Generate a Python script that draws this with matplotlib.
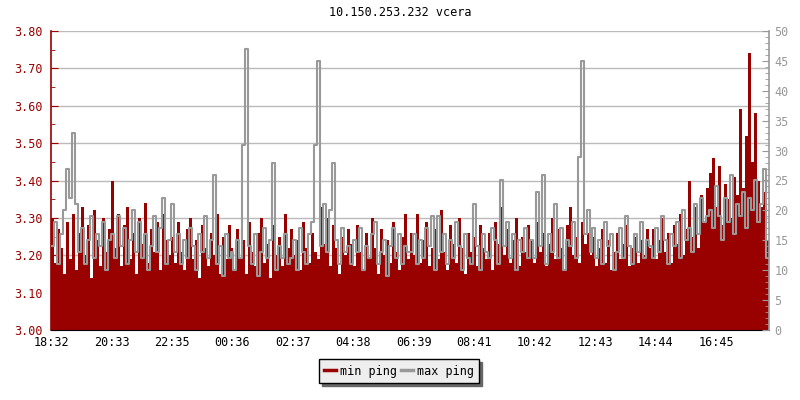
import matplotlib
matplotlib.use('Agg')
import matplotlib.pyplot as plt
import numpy as np
from matplotlib.ticker import MultipleLocator
from matplotlib.lines import Line2D

title = '10.150.253.232 vcera'
tick_labels = ['18:32', '20:33', '22:35', '00:36', '02:37', '04:38',
               '06:39', '08:41', '10:42', '12:43', '14:44', '16:45']

# min ping (left axis), one value per 6 minutes, 2 hour blocks per row
min_ping = [
    3.30, 3.18, 3.27, 3.22, 3.15, 3.29, 3.19, 3.31, 3.16, 3.26, 3.33, 3.20, 3.28, 3.14, 3.32, 3.24, 3.17, 3.30, 3.21, 3.27,
    3.40, 3.22, 3.31, 3.17, 3.28, 3.33, 3.19, 3.26, 3.15, 3.30, 3.23, 3.34, 3.18, 3.27, 3.21, 3.29, 3.16, 3.31, 3.24, 3.20,
    3.25, 3.18, 3.29, 3.21, 3.16, 3.27, 3.30, 3.19, 3.24, 3.14, 3.28, 3.22, 3.17, 3.26, 3.20, 3.31, 3.15, 3.25, 3.19, 3.28,
    3.22, 3.16, 3.27, 3.19, 3.24, 3.15, 3.29, 3.21, 3.17, 3.26, 3.30, 3.18, 3.23, 3.14, 3.28, 3.20, 3.25, 3.17, 3.31, 3.22,
    3.27, 3.20, 3.24, 3.16, 3.29, 3.22, 3.18, 3.26, 3.21, 3.19, 3.33, 3.23, 3.30, 3.17, 3.28, 3.22, 3.15, 3.25, 3.20, 3.27,
    3.23, 3.17, 3.28, 3.21, 3.16, 3.26, 3.19, 3.30, 3.22, 3.15, 3.27, 3.20, 3.24, 3.18, 3.29, 3.21, 3.16, 3.25, 3.31, 3.19,
    3.26, 3.20, 3.31, 3.18, 3.24, 3.29, 3.17, 3.22, 3.27, 3.19, 3.32, 3.21, 3.16, 3.28, 3.23, 3.18, 3.30, 3.22, 3.15, 3.26,
    3.21, 3.25, 3.17, 3.28, 3.22, 3.19, 3.26, 3.16, 3.29, 3.23, 3.33, 3.20, 3.27, 3.18, 3.24, 3.30, 3.17, 3.25, 3.21, 3.28,
    3.24, 3.18, 3.29, 3.21, 3.26, 3.17, 3.23, 3.30, 3.19, 3.27, 3.22, 3.16, 3.28, 3.33, 3.20, 3.25, 3.18, 3.29, 3.23, 3.26,
    3.20, 3.25, 3.17, 3.22, 3.27, 3.18, 3.24, 3.16, 3.21, 3.26, 3.19, 3.23, 3.28, 3.17, 3.22, 3.25, 3.18, 3.24, 3.20, 3.27,
    3.22, 3.27, 3.19, 3.24, 3.30, 3.21, 3.26, 3.18, 3.28, 3.23, 3.31, 3.20, 3.27, 3.40, 3.25, 3.33, 3.22, 3.36, 3.29, 3.38,
    3.42, 3.46, 3.33, 3.44, 3.28, 3.39, 3.35, 3.30, 3.41, 3.36, 3.59, 3.38, 3.52, 3.74, 3.45, 3.58, 3.40, 3.33, 3.37, 3.24,
]

# max ping (right axis)
max_ping = [
    14, 18, 11, 16, 20, 27, 22, 33, 21, 13, 17, 11, 15, 19, 12, 16, 14, 18, 10, 15,
    16, 12, 19, 14, 17, 11, 15, 20, 13, 18, 12, 16, 10, 14, 19, 13, 17, 22, 11, 15,
    21, 13, 16, 11, 15, 12, 17, 14, 10, 16, 13, 19, 12, 15, 26, 11, 14, 9, 16, 12,
    13, 10, 15, 12, 31, 47, 14, 11, 16, 9, 13, 17, 12, 15, 28, 10, 14, 12, 16, 11,
    12, 15, 10, 17, 13, 11, 16, 18, 31, 45, 14, 21, 13, 20, 28, 15, 11, 17, 13, 14,
    11, 15, 13, 17, 10, 14, 12, 16, 18, 11, 13, 15, 9, 14, 17, 12, 16, 11, 14, 13,
    13, 16, 11, 15, 12, 17, 14, 19, 10, 19, 13, 16, 11, 15, 12, 18, 14, 10, 16, 12,
    11, 21, 14, 10, 16, 13, 12, 17, 15, 11, 25, 14, 18, 12, 16, 10, 15, 13, 17, 12,
    15, 12, 23, 14, 26, 11, 16, 13, 21, 12, 17, 10, 15, 14, 18, 12, 29, 45, 16, 20,
    13, 17, 12, 15, 11, 18, 14, 16, 10, 13, 17, 12, 19, 14, 11, 16, 13, 18, 12, 15,
    14, 12, 17, 13, 19, 15, 11, 16, 14, 18, 12, 20, 15, 17, 13, 21, 16, 22, 18, 19,
    20, 17, 24, 19, 15, 22, 18, 26, 16, 21, 19, 23, 17, 22, 20, 25, 18, 21, 27, 12,
]

RED = '#990000'
GRAY = '#999999'
plt.rcParams['font.family'] = ['DejaVu Sans Mono']
plt.rcParams['font.size'] = 8.5

step = 6
t = np.arange(len(min_ping)) * step

fig = plt.figure(figsize=(8, 4), dpi=100)
ax = fig.add_axes([51/800, 70/400, 718/800, 299/400])
ax2 = ax.twinx()

ax.bar(t, np.array(min_ping) - 3.0, bottom=3.0, width=step, align='edge',
       color=RED, linewidth=0, label='min ping', zorder=2)
t_ext = np.append(t, t[-1] + step)
g_ext = np.append(max_ping, max_ping[-1])
ax2.step(t_ext, g_ext, where='post', color=GRAY, linewidth=1.5, label='max ping')

ax.set_xlim(0, len(min_ping) * step)
ax.set_ylim(3.0, 3.8)
ax2.set_ylim(0, 50)

ax.set_xticks(np.arange(len(tick_labels)) * 121.3)
ax.set_xticklabels(tick_labels)
ax.yaxis.set_major_locator(MultipleLocator(0.1))
ax.yaxis.set_minor_locator(MultipleLocator(0.05))
ax.yaxis.set_major_formatter(matplotlib.ticker.FormatStrFormatter('%.2f'))
ax2.yaxis.set_major_locator(MultipleLocator(5))
ax2.yaxis.set_minor_locator(MultipleLocator(1))

ax.grid(axis='y', color='#bbbbbb', linewidth=1, zorder=1)
ax.set_axisbelow(True)

ax.tick_params(axis='x', direction='in', length=5, colors='black', pad=4)
ax.tick_params(axis='y', which='major', direction='in', length=5, colors=RED, pad=6)
ax.tick_params(axis='y', which='minor', direction='in', length=3, colors=RED)
ax2.tick_params(axis='y', which='major', direction='in', length=5, colors=GRAY, pad=4)
ax2.tick_params(axis='y', which='minor', direction='in', length=3, colors=GRAY)

for a in (ax, ax2):
    a.spines['top'].set_visible(False)
ax.spines['right'].set_visible(False)
ax2.spines['left'].set_visible(False)
ax2.spines['bottom'].set_visible(False)
ax.spines['left'].set_color(RED)
ax.spines['left'].set_linewidth(1.2)
ax.spines['bottom'].set_color('black')
ax2.spines['right'].set_color(GRAY)
ax2.spines['right'].set_linewidth(1.2)

fig.text(0.5, 1 - 13/400, title, ha='center', va='center', fontsize=8.5)

handles = [Line2D([], [], color=RED, linewidth=2.5),
           Line2D([], [], color=GRAY, linewidth=2.5)]
leg = fig.legend(handles, ['min ping', 'max ping'], loc='center',
                 bbox_to_anchor=(399/800, 1 - 371/400), ncol=2,
                 frameon=True, fancybox=False, shadow={'color': '#666666', 'alpha': 1},
                 handlelength=1.0, handletextpad=0.3, columnspacing=0.4,
                 borderpad=0.45, fontsize=8.5)
leg.get_frame().set_facecolor('#eeeeee')
leg.get_frame().set_edgecolor('black')
leg.get_frame().set_linewidth(1)
leg.get_frame().set_alpha(1)

fig.savefig('out.png', dpi=100)
